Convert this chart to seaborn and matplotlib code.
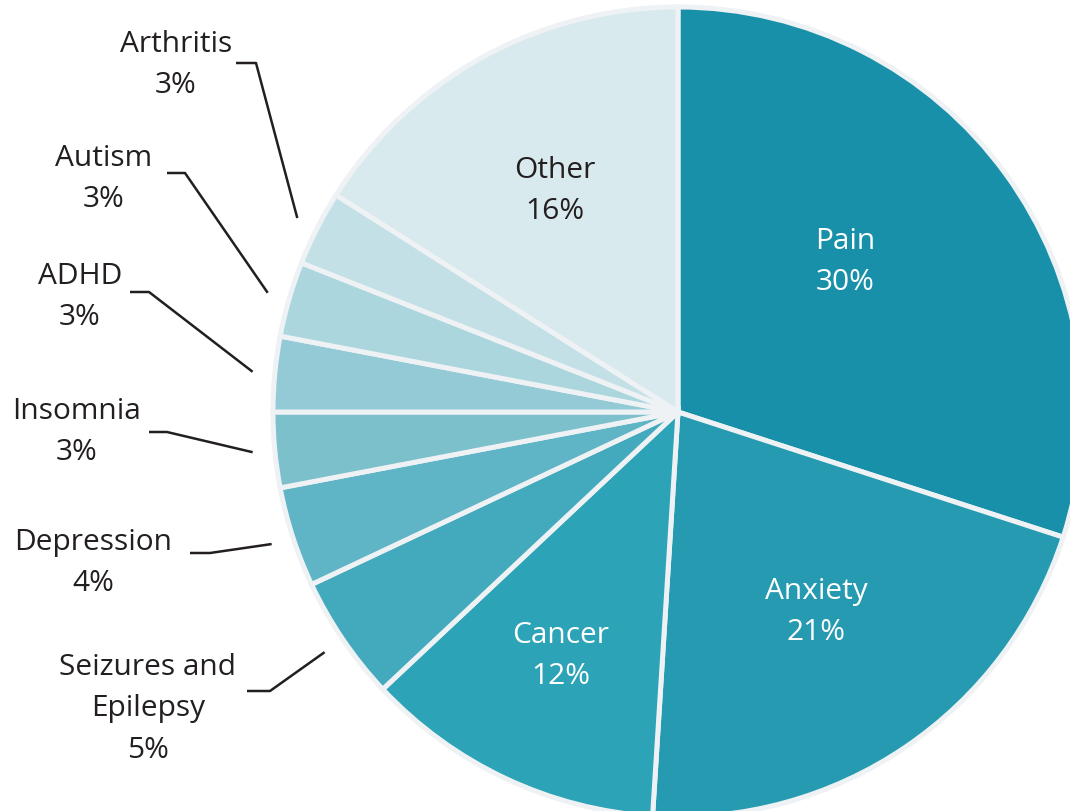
import matplotlib
matplotlib.use("Agg")
import matplotlib.pyplot as plt
import numpy as np
import seaborn as sns

sns.set_theme(style="white")
plt.rcParams["font.family"] = ["Open Sans", "DejaVu Sans"]

# data (clockwise from 12 o'clock)
categories = ["Pain", "Anxiety", "Cancer", "Seizures and\nEpilepsy", "Depression",
              "Insomnia", "ADHD", "Autism", "Arthritis", "Other"]
shares = [30, 21, 12, 5, 4, 3, 3, 3, 3, 16]
colors = ["#1990a9", "#259ab0", "#2ca3b7", "#43aabd", "#5fb4c5",
          "#7cc0cc", "#93cad5", "#abd6dd", "#c3e0e6", "#d9eaee"]

# label placement (pixels in a 1070x812 canvas), layout only
CX, CY, R = 678, 413, 405
TEXT_DARK = "#231f20"
inside_pos = {"Pain": (845, 262, "white"), "Anxiety": (816, 612, "white"),
              "Cancer": (561, 656, "white"), "Other": (555, 191, TEXT_DARK)}
outside_pos = {
    "Arthritis": ((176, 65), (236, 64), (256, 64)),
    "Autism": ((104, 179), (167, 174), (185, 174)),
    "ADHD": ((80, 297), (130, 293), (149, 293)),
    "Insomnia": ((77, 432), (149, 433), (167, 433)),
    "Depression": ((93, 563), (190, 554), (210, 554)),
    "Seizures and\nEpilepsy": ((148, 709), (247, 692), (270, 692)),
}


def px(x, y):
    return (x - CX) / R, (CY - y) / R


fig = plt.figure(figsize=(10.7, 8.12), dpi=100)
ax = fig.add_axes([0, 0, 1, 1])
ax.pie(shares, colors=colors, startangle=90, counterclock=False, radius=1,
       wedgeprops=dict(edgecolor="#eef2f4", linewidth=3.6))
ax.set_xlim(-CX / R, (1070 - CX) / R)
ax.set_ylim(-(812 - CY) / R, CY / R)
ax.set_aspect("equal")
ax.axis("off")

total = sum(shares)
start = 0
for cat, val in zip(categories, shares):
    mid = start + val / 2
    start += val
    label = f"{cat}\n{round(100 * val / total)}%"
    if cat in inside_pos:
        x, y, c = inside_pos[cat]
        ax.text(*px(x, y), label, ha="center", va="center", color=c,
                fontsize=21.5, linespacing=1.55)
    else:
        (tx, ty), (ex1, ey1), (ex2, ey2) = outside_pos[cat]
        ax.text(*px(tx, ty), label, ha="center", va="center", color=TEXT_DARK,
                fontsize=21.5, linespacing=1.55)
        ang = np.deg2rad(90 - mid / total * 360)
        x0, y0 = px(ex1, ey1)
        x1, y1 = px(ex2, ey2)
        ax.plot([x0, x1, 1.055 * np.cos(ang)], [y0, y1, 1.055 * np.sin(ang)],
                color=TEXT_DARK, linewidth=1.8, solid_capstyle="butt")

fig.savefig("out.png", dpi=100, facecolor="white")
